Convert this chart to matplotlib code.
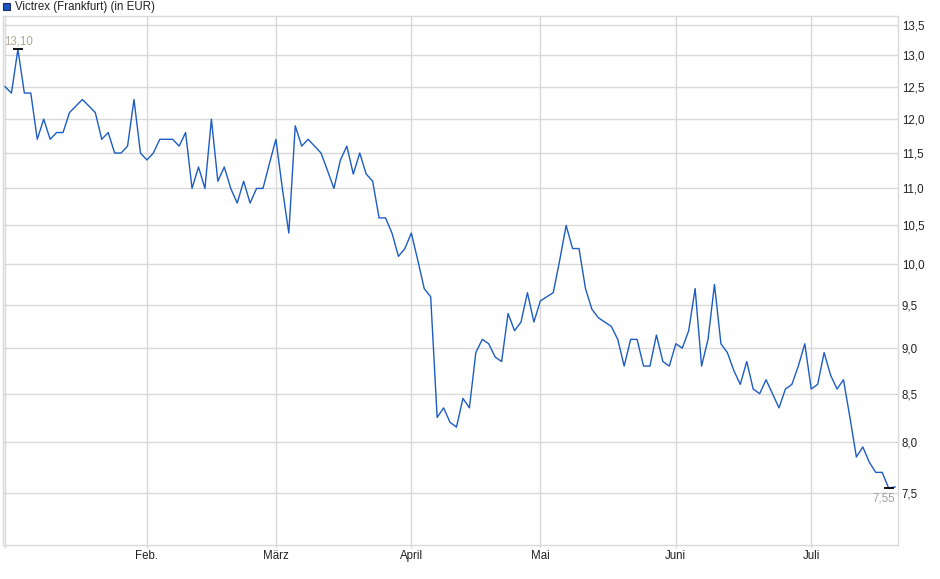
import numpy as np
import matplotlib
matplotlib.use("Agg")
import matplotlib.pyplot as plt
from matplotlib.patches import Rectangle
from matplotlib.ticker import FixedLocator, FuncFormatter, NullLocator, NullFormatter

plt.rcParams['font.family'] = ['Liberation Sans', 'DejaVu Sans']

# daily closes (trading days, Jan - Jul)
prices = [
    12.5, 12.4, 13.1, 12.4, 12.4, 11.7, 12.0, 11.7, 11.8, 11.8,
    12.1, 12.2, 12.3, 12.2, 12.1, 11.7, 11.8, 11.5, 11.5, 11.6,
    12.3, 11.5, 11.4, 11.5, 11.7, 11.7, 11.7, 11.6, 11.8, 11.0,
    11.3, 11.0, 12.0, 11.1, 11.3, 11.0, 10.8, 11.1, 10.8, 11.0,
    11.0, 11.35, 11.7, 11.0, 10.4, 11.9, 11.6, 11.7, 11.6, 11.5,
    11.25, 11.0, 11.4, 11.6, 11.2, 11.5, 11.2, 11.1, 10.6, 10.6,
    10.4, 10.1, 10.2, 10.4, 10.05, 9.7, 9.6, 8.25, 8.35, 8.2,
    8.15, 8.45, 8.35, 8.95, 9.1, 9.05, 8.9, 8.85, 9.4, 9.2,
    9.3, 9.65, 9.3, 9.55, 9.6, 9.65, 10.05, 10.5, 10.2, 10.2,
    9.7, 9.45, 9.35, 9.3, 9.25, 9.1, 8.8, 9.1, 9.1, 8.8,
    8.8, 9.15, 8.85, 8.8, 9.05, 9.0, 9.2, 9.7, 8.8, 9.1,
    9.75, 9.05, 8.95, 8.75, 8.6, 8.85, 8.55, 8.5, 8.65, 8.5,
    8.35, 8.55, 8.6, 8.8, 9.05, 8.55, 8.6, 8.95, 8.7, 8.55,
    8.65, 8.25, 7.85, 7.95, 7.8, 7.7, 7.7, 7.55, 7.56,
]

# first trading day of each month (index into prices)
month_idx = [0, 22, 42, 63, 83, 104, 125]
month_labels = ['', 'Feb.', 'März', 'April', 'Mai', 'Juni', 'Juli']
y_ticks = [7.5, 8.0, 8.5, 9.0, 9.5, 10.0, 10.5, 11.0, 11.5, 12.0, 12.5, 13.0, 13.5]
title = 'Victrex (Frankfurt) (in EUR)'

grid_c = '#d9d9d9'
line_c = '#1c5cc4'
txt_c = '#222222'

W, H = 940, 579
fig = plt.figure(figsize=(W / 100, H / 100), dpi=100)
ax = fig.add_axes([3 / W, 1 - 545.3 / H, (898.3 - 3) / W, (545.3 - 16) / H])

x = np.arange(len(prices))
ax.plot(x, prices, color=line_c, lw=1.0, zorder=3)

ax.set_yscale('log')
ax.set_ylim(7.026, 13.66)
ax.set_xlim(-0.31, 138.5)

ax.yaxis.set_major_locator(FixedLocator(y_ticks))
ax.yaxis.set_major_formatter(FuncFormatter(lambda v, p: f'{v:.1f}'.replace('.', ',')))
ax.yaxis.set_minor_locator(NullLocator())
ax.yaxis.set_minor_formatter(NullFormatter())
ax.yaxis.tick_right()
ax.tick_params(axis='y', length=0, pad=2.5, labelsize=8.3, labelcolor=txt_c)

ax.set_xticks(month_idx)
ax.set_xticklabels(month_labels)
ax.tick_params(axis='x', length=2, width=1, color=grid_c, pad=1.5, labelsize=8.3, labelcolor=txt_c)

ax.grid(True, color=grid_c, lw=1.0, zorder=0)
for s in ax.spines.values():
    s.set_color(grid_c)
    s.set_linewidth(1.0)

# high / low markers
imax = int(np.argmax(prices))
imin = int(np.argmin(prices))
ax.plot(imax, prices[imax], marker='_', ms=7, mew=1.3, color='black', zorder=4)
ax.plot(imin, prices[imin], marker='_', ms=7, mew=1.3, color='black', zorder=4)
ax.annotate(f'{prices[imax]:.2f}'.replace('.', ','), (imax, prices[imax]),
            xytext=(1, 8), textcoords='offset pixels', ha='center', va='center',
            fontsize=8.3, color='#b3a792')
ax.annotate(f'{prices[imin]:.2f}'.replace('.', ','), (imin, prices[imin]),
            xytext=(-5, -10), textcoords='offset pixels', ha='center', va='center',
            fontsize=8.3, color='#a0a0a0')

# legend box
fig.patches.append(Rectangle((3 / W, 1 - 10 / H), 7 / W, 7 / H, transform=fig.transFigure,
                             facecolor='#1a56c0', edgecolor='#1a2f60', lw=0.8))
fig.text(15 / W, 1 - 7 / H, title, fontsize=8.3, color=txt_c, va='center', ha='left')

fig.savefig('out.png', dpi=100)
